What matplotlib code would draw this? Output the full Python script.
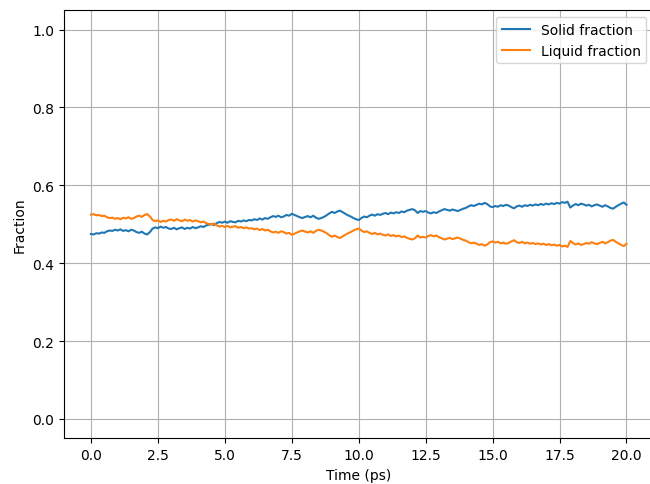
import numpy as np
import matplotlib.pyplot as plt

# time axis in ps, sampled every 0.1 ps
time = np.arange(201) * 0.1

solid = [
    0.475, 0.474, 0.477, 0.476, 0.479, 0.478, 0.482, 0.484, 0.483, 0.486,
    0.484, 0.487, 0.483, 0.485, 0.482, 0.486, 0.484, 0.480, 0.478, 0.481,
    0.476, 0.474, 0.480, 0.489, 0.492, 0.490, 0.494, 0.491, 0.493, 0.489,
    0.488, 0.491, 0.487, 0.490, 0.492, 0.488, 0.491, 0.489, 0.493, 0.490,
    0.492, 0.495, 0.493, 0.497, 0.499, 0.501, 0.498, 0.503, 0.506, 0.504,
    0.507, 0.504, 0.508, 0.506, 0.505, 0.509, 0.507, 0.510, 0.508, 0.511,
    0.510, 0.513, 0.511, 0.515, 0.512, 0.516, 0.514, 0.518, 0.521, 0.519,
    0.522, 0.518, 0.520, 0.524, 0.522, 0.527, 0.524, 0.521, 0.518, 0.516,
    0.519, 0.521, 0.518, 0.522, 0.517, 0.514, 0.516, 0.519, 0.523, 0.528,
    0.532, 0.529, 0.533, 0.535, 0.531, 0.527, 0.523, 0.520, 0.516, 0.513,
    0.511, 0.516, 0.520, 0.518, 0.522, 0.525, 0.522, 0.526, 0.524, 0.527,
    0.529, 0.526, 0.530, 0.528, 0.531, 0.529, 0.533, 0.531, 0.535, 0.537,
    0.539, 0.536, 0.529, 0.534, 0.532, 0.534, 0.530, 0.528, 0.531, 0.529,
    0.533, 0.536, 0.539, 0.537, 0.535, 0.538, 0.536, 0.534, 0.537, 0.540,
    0.542, 0.546, 0.549, 0.547, 0.550, 0.553, 0.551, 0.555, 0.552, 0.546,
    0.544, 0.547, 0.545, 0.549, 0.547, 0.550, 0.548, 0.544, 0.541, 0.546,
    0.548, 0.545, 0.549, 0.547, 0.550, 0.548, 0.551, 0.549, 0.552, 0.550,
    0.553, 0.551, 0.554, 0.552, 0.555, 0.553, 0.557, 0.555, 0.558, 0.543,
    0.548, 0.552, 0.549, 0.553, 0.551, 0.548, 0.550, 0.546, 0.549, 0.551,
    0.548, 0.545, 0.549, 0.546, 0.542, 0.540, 0.545, 0.549, 0.553, 0.556,
    0.550,
]

liquid = [
    0.525, 0.526, 0.523, 0.524, 0.521, 0.522, 0.518, 0.516, 0.517, 0.514,
    0.516, 0.513, 0.517, 0.515, 0.518, 0.514, 0.516, 0.520, 0.522, 0.519,
    0.524, 0.526, 0.520, 0.511, 0.508, 0.510, 0.506, 0.509, 0.507, 0.511,
    0.512, 0.509, 0.513, 0.510, 0.508, 0.512, 0.509, 0.511, 0.507, 0.510,
    0.508, 0.505, 0.507, 0.503, 0.501, 0.499, 0.502, 0.497, 0.494, 0.496,
    0.493, 0.496, 0.492, 0.494, 0.495, 0.491, 0.493, 0.490, 0.492, 0.489,
    0.490, 0.487, 0.489, 0.485, 0.488, 0.484, 0.486, 0.482, 0.479, 0.481,
    0.478, 0.482, 0.480, 0.476, 0.478, 0.473, 0.476, 0.479, 0.482, 0.484,
    0.481, 0.479, 0.482, 0.478, 0.483, 0.486, 0.484, 0.481, 0.477, 0.472,
    0.468, 0.471, 0.467, 0.465, 0.469, 0.473, 0.477, 0.480, 0.484, 0.487,
    0.489, 0.484, 0.480, 0.482, 0.478, 0.475, 0.478, 0.474, 0.476, 0.473,
    0.471, 0.474, 0.470, 0.472, 0.469, 0.471, 0.467, 0.469, 0.465, 0.463,
    0.461, 0.464, 0.471, 0.466, 0.468, 0.466, 0.470, 0.472, 0.469, 0.471,
    0.467, 0.464, 0.461, 0.463, 0.465, 0.462, 0.464, 0.466, 0.463, 0.460,
    0.458, 0.454, 0.451, 0.453, 0.450, 0.447, 0.449, 0.445, 0.448, 0.454,
    0.456, 0.453, 0.455, 0.451, 0.453, 0.450, 0.452, 0.456, 0.459, 0.454,
    0.452, 0.455, 0.451, 0.453, 0.450, 0.452, 0.449, 0.451, 0.448, 0.450,
    0.447, 0.449, 0.446, 0.448, 0.445, 0.447, 0.443, 0.445, 0.442, 0.457,
    0.452, 0.448, 0.451, 0.447, 0.449, 0.452, 0.450, 0.454, 0.451, 0.449,
    0.452, 0.455, 0.451, 0.454, 0.458, 0.460, 0.455, 0.451, 0.447, 0.444,
    0.450,
]

fig, ax = plt.subplots(figsize=(6.5, 4.85), dpi=100)
ax.plot(time, solid, label='Solid fraction')
ax.plot(time, liquid, label='Liquid fraction')

ax.set_xlabel('Time (ps)')
ax.set_ylabel('Fraction')
ax.set_ylim(-0.05, 1.05)
ax.grid(True)
ax.legend(loc='upper right')

# right spine sits just past the image edge in the reference
fig.subplots_adjust(left=0.0988, right=1.005, bottom=0.094, top=0.977)
fig.savefig('out.png', dpi=100)
